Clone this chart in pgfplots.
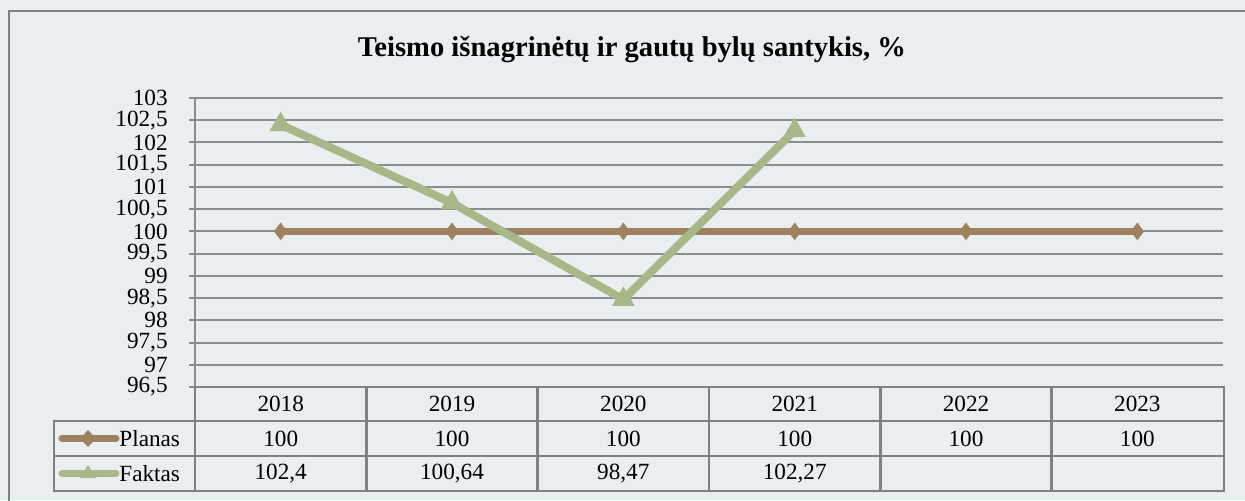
\documentclass[border=0pt]{standalone}
\usepackage{pgfplots}
\pgfplotsset{compat=1.18}
\usepackage{fontspec}
\setmainfont{Liberation Serif}

\definecolor{bgc}{HTML}{E9EEF1}
\definecolor{planas}{HTML}{9E8260}
\definecolor{faktas}{HTML}{A6B888}
\definecolor{gridc}{HTML}{8C8C8C}
\definecolor{framec}{HTML}{808080}

\begin{document}
\begin{tikzpicture}
% page = 1245 x 500 px, 1 px = 0.5pt
\begin{scope}[x=0.5pt,y=-0.5pt]
  \clip (0,0) rectangle (1245,500);
  \fill[bgc] (0,0) rectangle (1245,500);
  \draw[framec, line width=1.3pt] (9,11) rectangle (1270,530);
  \node[font=\fontsize{14.3}{16}\selectfont\bfseries] at (632,50) {Teismo išnagrinėtų ir gautų bylų santykis, \%};
\end{scope}

\begin{axis}[
  at={(97.5pt,-193.5pt)}, anchor=south west,
  scale only axis, width=514pt, height=144.5pt,
  xmin=-0.5, xmax=5.5, ymin=96.5, ymax=103,
  xtick=\empty,
  ytick distance=0.5, ytick pos=left,
  tick align=outside, major tick length=3pt,
  tick style={gridc, line width=1pt},
  ymajorgrids, grid style={gridc, line width=1pt},
  axis line style={draw=none},
  clip=false,
  /pgf/number format/.cd, use comma, 1000 sep={}, assume math mode=true,
  /pgfplots/.cd,
  yticklabel={\pgfmathprintnumber{\tick}},
  tick label style={font=\fontsize{11.6}{12}\selectfont},
  yticklabel style={inner sep=0pt, xshift=-10.5pt},
]
\addplot[planas, line width=3.5pt, mark=diamond*, mark size=4pt,
  mark options={line width=0.5pt, fill=planas}] coordinates
  {(0,100) (1,100) (2,100) (3,100) (4,100) (5,100)};
\addplot[faktas, line width=4pt, mark=triangle*, mark size=6pt,
  mark options={line width=0.5pt, fill=faktas}] coordinates
  {(0,102.4) (1,100.64) (2,98.47) (3,102.27)};
\end{axis}

\begin{scope}[x=0.5pt,y=-0.5pt]
  \draw[gridc, line width=1pt] (195,98) -- (195,387);
  % data table
  \begin{scope}[draw=framec, line width=1.25pt]
    \draw (195,387) -- (1224,387) -- (1224,491) -- (54,491) -- (54,421) -- (1224,421);
    \draw (54,456) -- (1224,456);
    \foreach \c in {195,366.3,537.7,709,880.3,1051.7} \draw (\c,387) -- (\c,491);
  \end{scope}
  \begin{scope}[font=\fontsize{11.6}{12}\selectfont]
    \foreach \y [count=\i from 0] in {2018,2019,2020,2021,2022,2023}
      \node at (280.7+171.33*\i,404) {\y};
    \foreach \v [count=\i from 0] in {100,100,100,100,100,100}
      \node at (280.7+171.33*\i,438.5) {\v};
    \node at (280.7,473.5) {102,4};
    \node at (452.0,473.5) {100,64};
    \node at (623.3,473.5) {98,47};
    \node at (794.7,473.5) {102,27};
    \node[anchor=west, inner sep=0pt] at (119,438.5) {Planas};
    \node[anchor=west, inner sep=0pt] at (119,473.5) {Faktas};
  \end{scope}
  \draw[planas, line width=3.5pt, line cap=round] (62,438.5) -- (116,438.5);
  \fill[planas] (88,430) -- (96,438.5) -- (88,447) -- (80,438.5) -- cycle;
  \draw[faktas, line width=3.5pt, line cap=round] (62,473.5) -- (116,473.5);
  \fill[faktas] (88,465) -- (96,478) -- (80,478) -- cycle;
\end{scope}
\end{tikzpicture}
\end{document}
